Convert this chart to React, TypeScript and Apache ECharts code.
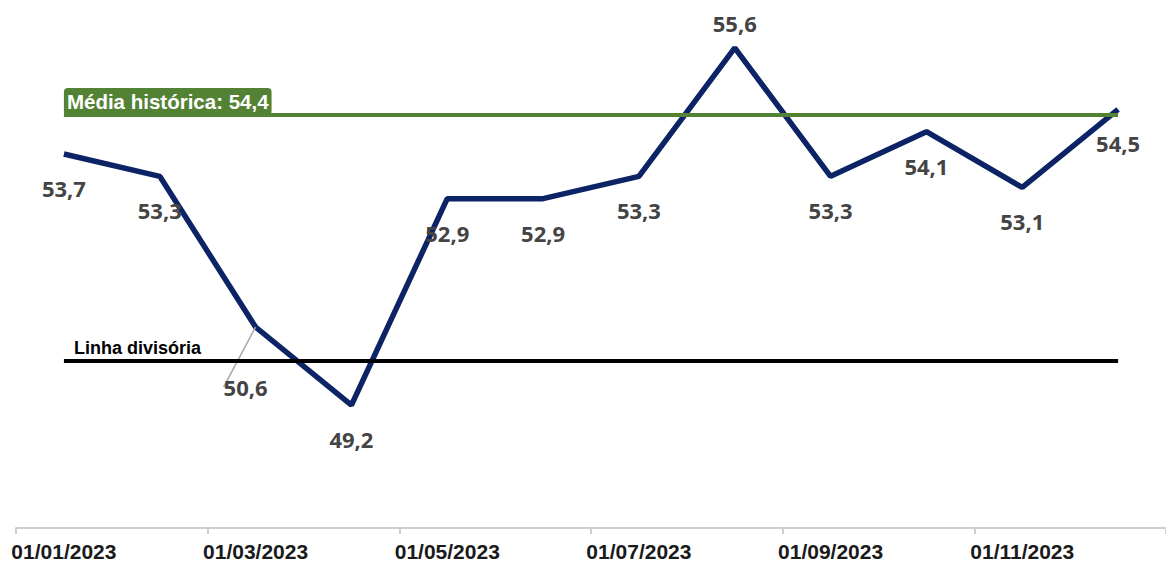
import { useEffect, useRef } from "react";
import * as echarts from "echarts";

const categories = [
  "01/01/2023", "01/02/2023", "01/03/2023", "01/04/2023", "01/05/2023", "01/06/2023",
  "01/07/2023", "01/08/2023", "01/09/2023", "01/10/2023", "01/11/2023", "01/12/2023",
];
const values = [53.7, 53.3, 50.6, 49.2, 52.9, 52.9, 53.3, 55.6, 53.3, 54.1, 53.1, 54.5];
const historicalAverage = 54.4;
const dividingValue = 50;
const averageLabel = "Média histórica";
const dividingLabel = "Linha divisória";

const fmt = (v: number) => v.toFixed(1).replace(".", ",");

export default function App() {
  const ref = useRef<HTMLDivElement>(null);
  useEffect(() => {
    if (!ref.current) return;
    const chart = echarts.init(ref.current, null, { renderer: "svg" });
    const maxVal = Math.max(...values);
    chart.setOption({
      animation: false,
      backgroundColor: "#ffffff",
      grid: { left: 16, width: 1152, top: 25.6, bottom: 33 },
      xAxis: {
        type: "category",
        data: categories,
        boundaryGap: true,
        axisLine: { lineStyle: { color: "#cfcfcf", width: 2 } },
        axisTick: { show: true, interval: 1, length: 6, lineStyle: { color: "#cfcfcf", width: 2 } },
        axisLabel: {
          interval: 1,
          margin: 13,
          color: "#1a1a1a",
          fontFamily: "Liberation Sans, Arial, sans-serif",
          fontWeight: "bold",
          fontSize: 21,
        },
      },
      yAxis: { type: "value", min: 47, max: 56, show: false, splitLine: { show: false } },
      series: [
        {
          type: "line",
          data: values.map((v, i) => ({
            value: v,
            label: v === maxVal ? { position: "top", distance: 14 } : {},
            labelLine: { show: i === 2 },
          })),
          showSymbol: true,
          symbol: "circle",
          symbolSize: 0,
          itemStyle: { color: "#0c2466" },
          lineStyle: { color: "#0c2466", width: 5.5 },
          z: 3,
          label: {
            show: true,
            position: "bottom",
            distance: 23,
            formatter: (p: any) => fmt(p.value as number),
            color: "#444444",
            fontFamily: "Open Sans, sans-serif",
            fontWeight: "bold",
            fontSize: 22,
          },
          labelLayout: (p: any) => (p.dataIndex === 2 ? { dx: -10, dy: 26 } : {}),
          labelLine: { show: false, lineStyle: { color: "#a6a6a6", width: 1.5 } },
          markLine: {
            silent: true,
            symbol: "none",
            data: [
              [
                {
                  coord: [categories[0], historicalAverage],
                  lineStyle: { color: "#548235", width: 4, type: "solid", opacity: 1 },
                  label: {
                    show: true,
                    position: "insideStartTop",
                    distance: [0, 0],
                    formatter: `${averageLabel}: ${fmt(historicalAverage)}`,
                    color: "#ffffff",
                    backgroundColor: "#548235",
                    borderRadius: 4,
                    padding: [3, 3, 3, 3],
                    fontFamily: "Liberation Sans, Arial, sans-serif",
                    fontWeight: "bold",
                    fontSize: 20.5,
                  },
                },
                { coord: [categories[categories.length - 1], historicalAverage] },
              ],
              [
                {
                  coord: [categories[0], dividingValue],
                  lineStyle: { color: "#000000", width: 4, type: "solid", opacity: 1 },
                  label: {
                    show: true,
                    position: "insideStartTop",
                    distance: [10, 4],
                    formatter: dividingLabel,
                    color: "#000000",
                    fontFamily: "Liberation Sans, Arial, sans-serif",
                    fontWeight: "bold",
                    fontSize: 18,
                  },
                },
                { coord: [categories[categories.length - 1], dividingValue] },
              ],
            ],
          },
        },
      ],
    });
    return () => chart.dispose();
  }, []);
  return (
    <div
      ref={ref}
      style={{ position: "fixed", left: 0, top: 0, width: 1166, height: 562, background: "#fff" }}
    />
  );
}
